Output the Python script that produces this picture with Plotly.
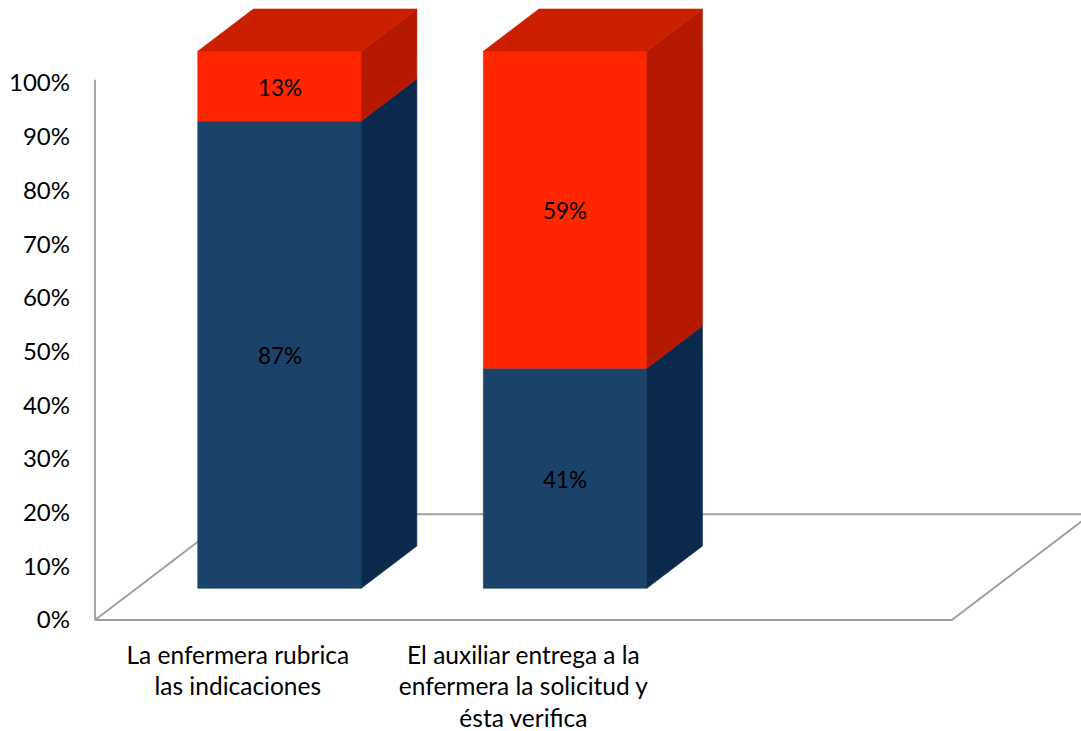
import plotly.graph_objects as go

# ---- data -------------------------------------------------------------
categories = [
    "La enfermera rubrica<br>las indicaciones",
    "El auxiliar entrega a la<br>enfermera la solicitud y<br>ésta verifica",
]
si_values = [87, 41]   # lower (blue) segment, %
no_values = [13, 59]   # upper (red) segment, %
tick_values = [0, 10, 20, 30, 40, 50, 60, 70, 80, 90, 100]
tick_labels = ["0%", "10%", "20%", "30%", "40%", "50%", "60%", "70%", "80%", "90%", "100%"]

# ---- oblique 3-D geometry (x in category slots, y in percent) ----------
N_SLOTS = 3            # floor spans three category slots
DX, DY = 0.4867, 19.68  # full floor depth vector
D0, D1 = 0.30, 0.70     # front / back depth of the bars
BAR_W = 0.5725

FONT = "Lato, 'Open Sans', sans-serif"

colors = {
    "si": {"front": "#1B4369", "side": "#0A294D", "top": "#163A60"},
    "no": {"front": "#FF2600", "side": "#B51A00", "top": "#CC1F00"},
}


def proj(u, v, d):
    return u + d * DX, v + d * DY


def poly(points, color, name):
    xs = [p[0] for p in points] + [points[0][0]]
    ys = [p[1] for p in points] + [points[0][1]]
    return go.Scatter(
        x=xs, y=ys, mode="lines", fill="toself", fillcolor=color,
        line=dict(color=color, width=0.6), hoverinfo="skip",
        showlegend=False, name=name,
    )


fig = go.Figure()

# floor outline and value axis line
floor = [proj(-0.5, 0, 0), proj(N_SLOTS - 0.5, 0, 0),
         proj(N_SLOTS - 0.5, 0, 1), proj(-0.5, 0, 1)]
fig.add_trace(go.Scatter(
    x=[p[0] for p in floor] + [floor[0][0]],
    y=[p[1] for p in floor] + [floor[0][1]],
    mode="lines", line=dict(color="#A0A0A0", width=2),
    hoverinfo="skip", showlegend=False,
))
fig.add_trace(go.Scatter(
    x=[-0.5, -0.5], y=[0, 100.6], mode="lines",
    line=dict(color="#A6A6A6", width=2), hoverinfo="skip", showlegend=False,
))

for i, (si, no) in enumerate(zip(si_values, no_values)):
    left, right = i - BAR_W / 2, i + BAR_W / 2
    segments = [("si", 0, si), ("no", si, si + no)]
    for key, a, b in segments:
        c = colors[key]
        fig.add_trace(poly([proj(left, a, D0), proj(right, a, D0),
                            proj(right, b, D0), proj(left, b, D0)],
                           c["front"], key))
        fig.add_trace(poly([proj(right, a, D0), proj(right, a, D1),
                            proj(right, b, D1), proj(right, b, D0)],
                           c["side"], key))
        cx, cy = proj(i, (a + b) / 2, D0)
        fig.add_annotation(
            x=cx, y=cy, text=f"{b - a}%", showarrow=False,
            xanchor="center", yanchor="middle", yshift=-1,
            font=dict(family=FONT, size=22.5, color="#000000"),
        )
    top = si + no
    fig.add_trace(poly([proj(left, top, D0), proj(right, top, D0),
                        proj(right, top, D1), proj(left, top, D1)],
                       colors["no"]["top"], "top"))

PX_SLOT, PX_PCT = 285.6, 5.37
plot_left, plot_bottom = 93, 622
fig.update_layout(
    width=1081, height=731,
    margin=dict(l=plot_left, r=0, t=0, b=731 - plot_bottom, pad=0,
                autoexpand=False),
    paper_bgcolor="white", plot_bgcolor="white",
    font=dict(family=FONT, size=24, color="#000000"),
    xaxis=dict(
        range=[-0.5 - 2 / PX_SLOT, -0.5 + (1081 - 95) / PX_SLOT],
        tickvals=[0, 1], ticktext=categories, automargin=False,
        showgrid=False, zeroline=False, showline=False, ticks="",
        ticklabelstandoff=16,
        tickfont=dict(family=FONT, size=24.5, color="#000000"),
    ),
    yaxis=dict(
        range=[-2 / PX_PCT, 620 / PX_PCT], automargin=False,
        tickvals=tick_values, ticktext=tick_labels,
        showgrid=False, zeroline=False, showline=False, ticks="",
        ticklabelstandoff=22,
        tickfont=dict(family=FONT, size=24, color="#000000"),
    ),
)

fig.write_html("out.html")
